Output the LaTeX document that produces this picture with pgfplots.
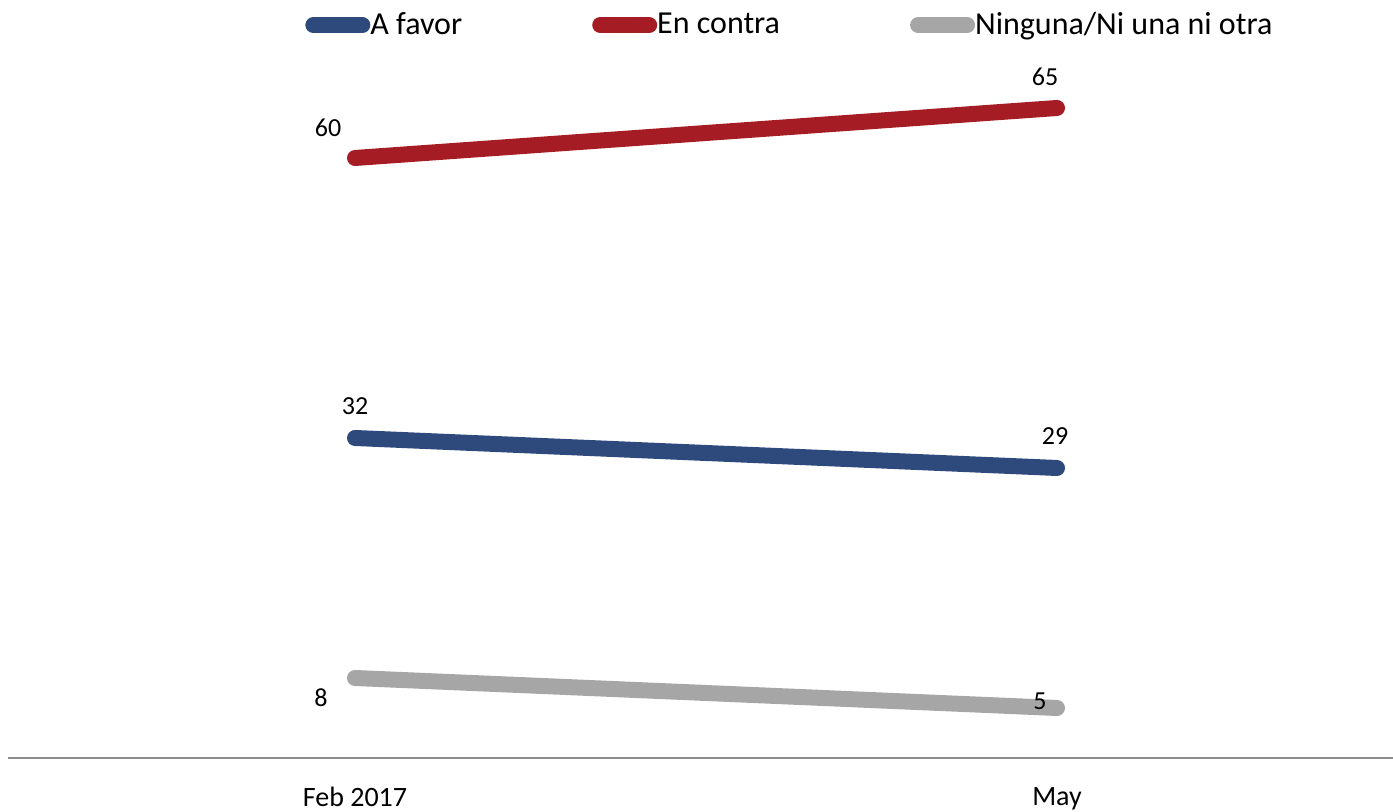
\documentclass[border=0pt]{standalone}
\usepackage{pgfplots}
\pgfplotsset{compat=1.18}
\usepackage{fontspec}
\setmainfont{Carlito}
\definecolor{cblue}{HTML}{2E4A7C}
\definecolor{cred}{HTML}{A51C24}
\definecolor{cgray}{HTML}{A6A6A6}
\definecolor{caxis}{HTML}{8C8C8C}
\begin{document}
\begin{tikzpicture}
\path[use as bounding box] (-4pt,-27pt) rectangle (692.5pt,379pt);
\begin{axis}[
  at={(0pt,0pt)}, anchor=south west,
  scale only axis, width=692.5pt, height=350pt,
  xmin=-0.4943, xmax=1.4786, ymin=0, ymax=70,
  clip=false,
  axis x line=bottom, axis y line=none,
  axis line style={-, draw=caxis, line width=0.75pt},
  xtick={0,1}, xticklabels={Feb 2017, May},
  major tick length=0pt, xtick style={draw=none},
  xticklabel style={font=\fontsize{14}{16}\selectfont, yshift=-11pt},
  ytick=\empty,
  legend columns=3,
  legend style={at={(axis description cs:0.2144,1.047)}, anchor=west,
    draw=none, fill=none, inner sep=0pt,
    font=\fontsize{16}{19}\selectfont,
    nodes={inner xsep=0pt, inner ysep=1pt},
    /tikz/every even column/.append style={column sep=65pt}},
  legend image code/.code={
    \path (0pt,0pt) -- (24.5pt,0pt);
    \draw[#1, line width=6.5pt, line cap=round] (3.25pt,0pt) -- (21.25pt,0pt);},
]
\addplot[cblue, line width=8pt, line cap=round] coordinates {(0,32) (1,29)};
\addlegendentry{A favor}
\addplot[cred, line width=8pt, line cap=round] coordinates {(0,60) (1,65)};
\addlegendentry{En contra}
\addplot[cgray, line width=8pt, line cap=round] coordinates {(0,8) (1,5)};
\addlegendentry{Ninguna/Ni una ni otra}
\begin{scope}[every node/.style={font=\fontsize{13}{15}\selectfont}]
\node[xshift=-13.5pt, yshift=15pt] at (axis cs:0,60) {60};
\node[xshift=-6pt, yshift=15.5pt] at (axis cs:1,65) {65};
\node[xshift=0pt, yshift=16pt] at (axis cs:0,32) {32};
\node[xshift=-1pt, yshift=16pt] at (axis cs:1,29) {29};
\node[xshift=-17pt, yshift=-10pt] at (axis cs:0,8) {8};
\node[xshift=-8.5pt, yshift=3.5pt] at (axis cs:1,5) {5};
\end{scope}
\end{axis}
\end{tikzpicture}
\end{document}
